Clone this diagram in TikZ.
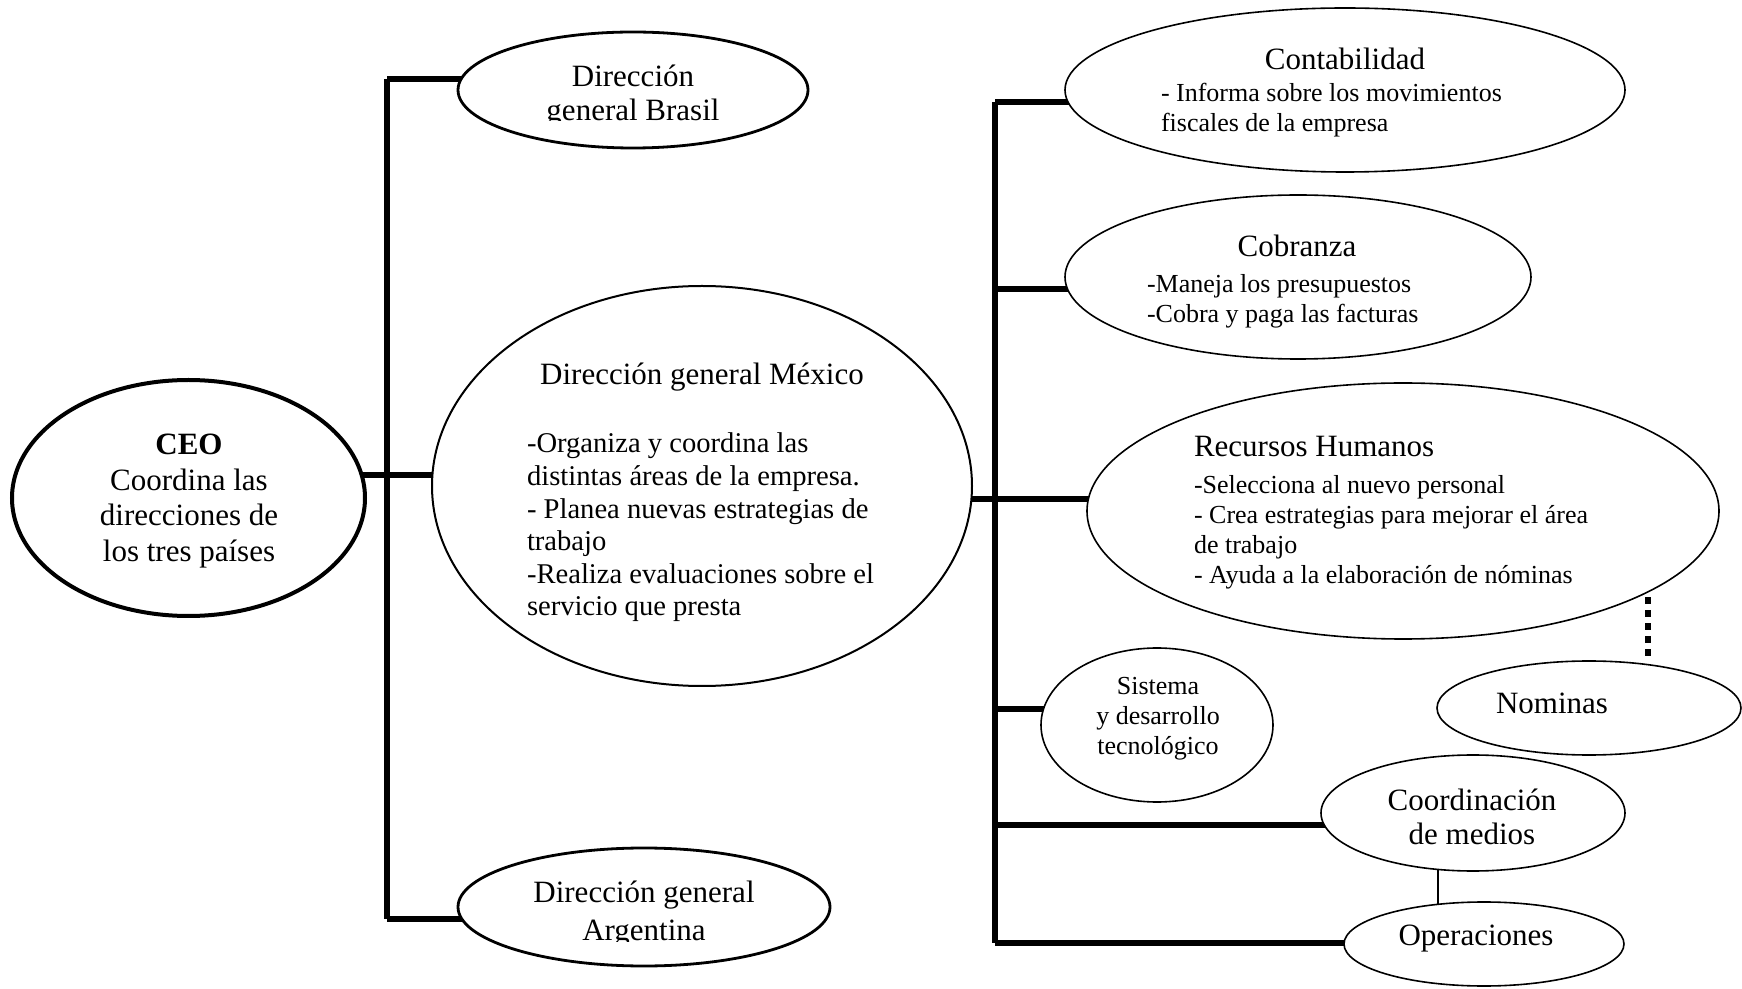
\documentclass[tikz,border=0pt]{standalone}
\usepackage{fontspec}
\setmainfont{Liberation Serif}
\usetikzlibrary{shapes.geometric,backgrounds}
\begin{document}
\begin{tikzpicture}[x=0.5pt,y=-0.5pt,
  oval/.style={draw, fill=white, ellipse, inner sep=0pt, line width=#1},
  oval/.default=0.8pt,
  bus/.style={line width=3pt},
  thinline/.style={line width=0.8pt},
  dots/.style={line width=2.6pt, dash pattern=on 3.5pt off 3pt},
  txt/.style={inner sep=0pt, outer sep=0pt},
  big/.style={txt, font=\fontsize{15.5}{17.8}\selectfont},
  body/.style={txt, font=\fontsize{14.3}{16.3}\selectfont},
  small/.style={txt, font=\fontsize{13}{15}\selectfont}
]
\useasboundingbox (0,0) rectangle (1742,989);

% ellipses
\node[oval=2pt, minimum width=176.5pt, minimum height=118pt] (ceo) at (188.5,498) {};
\node[oval=1.4pt, minimum width=175pt, minimum height=58pt] (bra) at (633,90) {};
\node[oval=1pt, minimum width=270pt, minimum height=200pt] (mex) at (702,486) {};
\node[oval=1.4pt, minimum width=186pt, minimum height=59pt] (arg) at (644,907) {};
\node[oval, minimum width=280pt, minimum height=82pt] (cont) at (1345,90) {};
\node[oval, minimum width=233pt, minimum height=82pt] (cob) at (1298,277) {};
\node[oval, minimum width=316pt, minimum height=128pt] (rh) at (1403,511) {};
\node[oval, minimum width=116pt, minimum height=77pt] (sis) at (1157,725) {};
\node[oval, minimum width=152pt, minimum height=47pt] (nom) at (1589,708) {};
\node[oval, minimum width=152pt, minimum height=58pt] (coo) at (1473,813) {};
\node[oval, minimum width=140pt, minimum height=42pt] (ope) at (1484,944) {};

% texts
\node[big, align=center, font=\fontsize{15.5}{17.85}\selectfont] (ceoT) at (189,501)
  {\textbf{CEO}\\Coordina las\\direcciones de\\los tres países};
\begin{scope}
\clip (0,0) rectangle (1742,121);
\node[big, align=center, font=\fontsize{15.5}{17}\selectfont] (braT) at (633,96) {Dirección\\general Brasil};
\end{scope}
\begin{scope}
\clip (0,700) rectangle (1742,941);
\node[big, align=center, font=\fontsize{15.5}{19}\selectfont] (argT) at (644,914) {Dirección general\\Argentina};
\end{scope}
\node[big] (mexT) at (702,377) {Dirección general México};
\node[body, align=left, anchor=west] (mexB) at (527,527.5)
  {-Organiza y coordina las\\distintas áreas de la empresa.\\- Planea nuevas estrategias de\\trabajo\\-Realiza evaluaciones sobre el\\servicio que presta};
\node[big] (contT) at (1345,59) {Contabilidad};
\node[small, align=left, anchor=west] (contB) at (1161,110)
  {- Informa sobre los movimientos\\fiscales de la empresa};
\node[big] (cobT) at (1297,246) {Cobranza};
\node[small, align=left, anchor=west] (cobB) at (1147,301)
  {-Maneja los presupuestos\\-Cobra y paga las facturas};
\node[big, anchor=west] (rhT) at (1194,447) {Recursos Humanos};
\node[small, align=left, anchor=west] (rhB) at (1194,532)
  {-Selecciona al nuevo personal\\- Crea estrategias para mejorar el área\\de trabajo\\- Ayuda a la elaboración de nóminas};
\node[small, align=center] (sisT) at (1158,719) {Sistema\\y desarrollo\\tecnológico};
\node[big] (nomT) at (1552,703) {Nominas};
\node[big, align=center, font=\fontsize{15.5}{17}\selectfont] (cooT) at (1472,817) {Coordinación\\de medios};
\node[big] (opeT) at (1476,939) {Operaciones};

% connectors (behind the white ellipses)
\coordinate (lt) at (387,79);
\coordinate (lb) at (387,919);
\coordinate (jm) at (387,475);
\coordinate (rt) at (995,102);
\coordinate (rb) at (995,943);
\coordinate (j2) at (995,289);
\coordinate (j3) at (995,499);
\coordinate (j4) at (995,709);
\coordinate (j5) at (995,825);
\coordinate (xl) at (1438,0);
\coordinate (dotEnd) at (1648,656);
\begin{pgfonlayer}{background}
\draw[bus] (lt) -- (lb);
\draw[bus] (lt) -- (lt -| bra.center);
\draw[bus] (lb) -- (lb -| arg.center);
\draw[bus] (jm -| ceo.center) -- (jm -| mex.center);
\draw[bus] (rt) -- (rb);
\draw[bus] (rt) -- (rt -| cont.center);
\draw[bus] (j2) -- (j2 -| cob.center);
\draw[bus] (j3 -| mex.center) -- (j3 -| rh.center);
\draw[bus] (j4) -- (j4 -| sis.center);
\draw[bus] (j5) -- (j5 -| coo.center);
\draw[bus] (rb) -- (rb -| ope.center);
\draw[thinline] (xl |- coo.center) -- (xl |- ope.center);
\draw[dots] (dotEnd) -- (dotEnd |- rh.center);
\end{pgfonlayer}
\end{tikzpicture}
\end{document}
